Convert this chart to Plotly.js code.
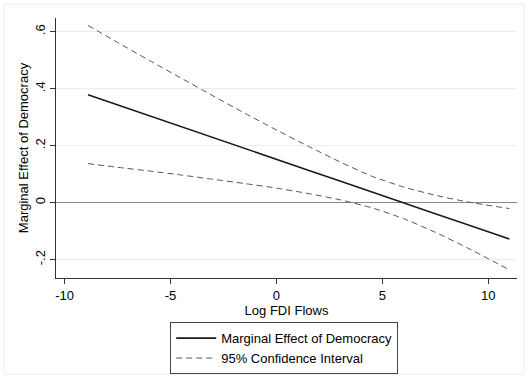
<!DOCTYPE html>
<html>
<head>
<meta charset="utf-8">
<script src="https://cdn.plot.ly/plotly-3.0.1.min.js"></script>
<style>
  html, body { margin: 0; padding: 0; background: #ffffff; }
  #chart { width: 528px; height: 385px; }
</style>
</head>
<body>
<div id="chart"></div>
<script>
// Log FDI Flows (x) values
const logFDI = [-8.9, -7.5, -6, -4.5, -3, -1.5, 0, 1.5, 3, 4.5, 6, 7.5, 9, 11];
// Marginal effect of democracy (solid line)
const marginalEffect = [0.379, 0.343, 0.305, 0.267, 0.228, 0.190, 0.152, 0.114, 0.076, 0.037, -0.001, -0.039, -0.077, -0.128];
// 95% confidence interval bounds (dashed lines)
const ciUpper = [0.622, 0.562, 0.499, 0.437, 0.375, 0.314, 0.255, 0.198, 0.143, 0.093, 0.055, 0.026, 0.003, -0.021];
const ciLower = [0.137, 0.124, 0.111, 0.097, 0.082, 0.067, 0.051, 0.032, 0.010, -0.018, -0.056, -0.104, -0.158, -0.236];

const xTickVals = [-10, -5, 0, 5, 10];
const xTickText = ['-10', '-5', '0', '5', '10'];
const yTickVals = [-0.2, 0, 0.2, 0.4, 0.6];
const yTickText = ['-.2', '0', '.2', '.4', '.6'];

const fontFamily = '"Liberation Sans", Arial, Helvetica, sans-serif';

const traces = [
  {
    x: logFDI, y: marginalEffect, type: 'scatter', mode: 'lines',
    name: 'Marginal Effect of Democracy',
    line: { color: '#1a1a1a', width: 1.6 }
  },
  {
    x: logFDI, y: ciUpper, type: 'scatter', mode: 'lines',
    name: '95% Confidence Interval', legendgroup: 'ci',
    line: { color: '#555555', width: 1, dash: '6px,4px', shape: 'spline', smoothing: 0.6 }
  },
  {
    x: logFDI, y: ciLower, type: 'scatter', mode: 'lines',
    name: '95% Confidence Interval', legendgroup: 'ci', showlegend: false,
    line: { color: '#555555', width: 1, dash: '6px,4px', shape: 'spline', smoothing: 0.6 }
  }
];

const layout = {
  width: 528, height: 385,
  margin: { l: 56, r: 11, t: 18, b: 102 },
  paper_bgcolor: '#ffffff', plot_bgcolor: '#ffffff',
  font: { family: fontFamily, size: 13, color: '#000000' },
  showlegend: true,
  legend: {
    orientation: 'v', x: 0.495, xanchor: 'center', y: -0.17, yanchor: 'top',
    bordercolor: '#444444', borderwidth: 1, bgcolor: '#ffffff',
    font: { family: fontFamily, size: 13, color: '#000000' },
    tracegroupgap: 0, itemwidth: 40
  },
  xaxis: {
    range: [-10.41, 11.36],
    tickmode: 'array', tickvals: xTickVals, ticktext: xTickText,
    ticks: 'outside', ticklen: 5, tickcolor: '#333333', tickwidth: 1,
    showline: true, linecolor: '#333333', linewidth: 1,
    showgrid: false, zeroline: false,
    tickfont: { family: fontFamily, size: 13, color: '#000000' },
    title: { text: 'Log FDI Flows', standoff: 0, font: { family: fontFamily, size: 13, color: '#000000' } }
  },
  yaxis: {
    range: [-0.2645, 0.648],
    tickmode: 'array', tickvals: yTickVals, ticktext: yTickText,
    tickangle: -90,
    ticks: 'outside', ticklen: 5, tickcolor: '#333333', tickwidth: 1,
    showline: true, linecolor: '#333333', linewidth: 1,
    showgrid: true, gridcolor: '#e6eff1', gridwidth: 1,
    zeroline: true, zerolinecolor: '#888888', zerolinewidth: 1,
    tickfont: { family: fontFamily, size: 13, color: '#000000' },
    title: { text: 'Marginal Effect of Democracy', standoff: 1, font: { family: fontFamily, size: 13, color: '#000000' } }
  },
  shapes: [
    {
      type: 'rect', xref: 'paper', yref: 'paper',
      x0: -0.113, x1: 1.015, y0: -0.37, y1: 1.053,
      line: { color: '#e8eef0', width: 1 }, fillcolor: 'rgba(0,0,0,0)', layer: 'below'
    }
  ]
};

Plotly.newPlot('chart', traces, layout, { staticPlot: true, displayModeBar: false });
</script>
</body>
</html>
